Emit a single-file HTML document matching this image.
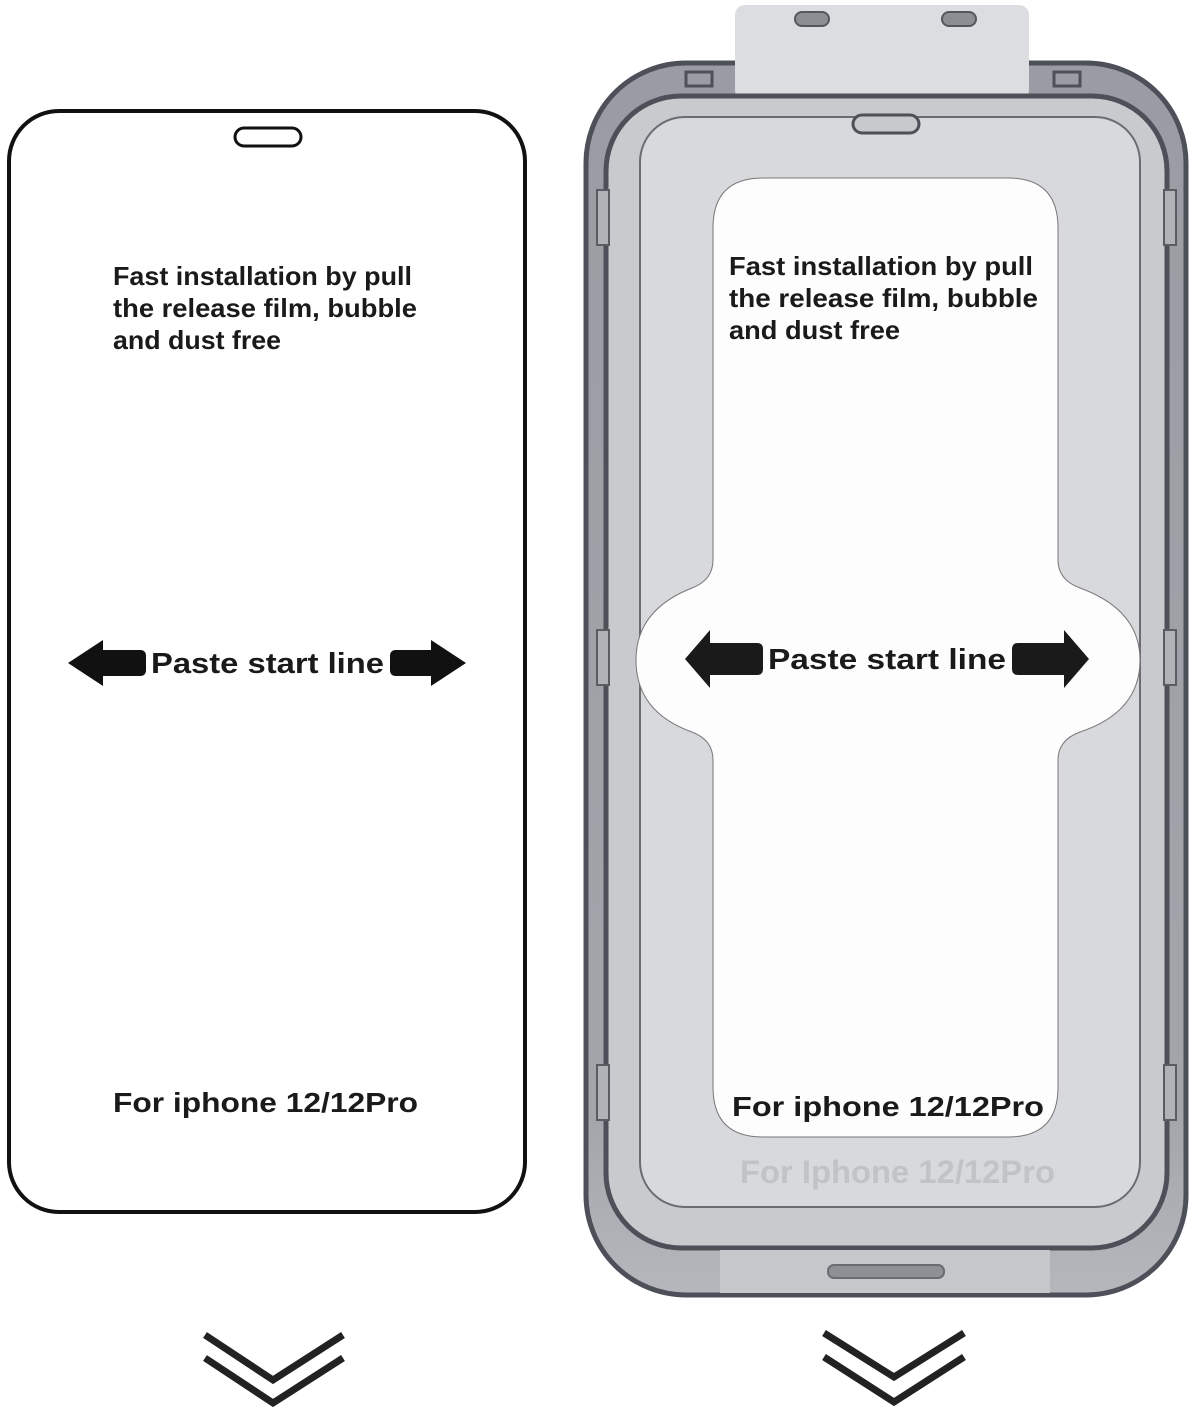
<!DOCTYPE html>
<html><head><meta charset="utf-8"><style>
html,body{margin:0;padding:0;background:#fff;width:1193px;height:1410px;overflow:hidden}
text{font-family:"Liberation Sans","DejaVu Sans",sans-serif;font-weight:bold;fill:#1a1a1a}
</style></head><body>
<svg width="1193" height="1410" viewBox="0 0 1193 1410" xmlns="http://www.w3.org/2000/svg">
<defs>
<linearGradient id="fr" x1="0" y1="0" x2="0" y2="1">
<stop offset="0" stop-color="#9a9ca3"/><stop offset="0.85" stop-color="#a3a5ab"/><stop offset="1" stop-color="#b5b7bc"/>
</linearGradient>
</defs>
<!-- LEFT PHONE -->
<rect x="9" y="111" width="516" height="1101" rx="50" fill="#fff" stroke="#111" stroke-width="4"/>
<rect x="235" y="128" width="66" height="18" rx="9" fill="#fff" stroke="#111" stroke-width="3"/>
<text x="113" y="285" font-size="26" textLength="299" lengthAdjust="spacingAndGlyphs">Fast installation by pull</text>
<text x="113" y="317" font-size="26" textLength="304" lengthAdjust="spacingAndGlyphs">the release film, bubble</text>
<text x="113" y="349" font-size="26" textLength="168" lengthAdjust="spacingAndGlyphs">and dust free</text>
<path d="M68 663 L103 640 L103 650 L140 650 Q146 650 146 656 L146 670 Q146 676 140 676 L103 676 L103 686 Z" fill="#111"/>
<text x="151" y="673" font-size="29" textLength="233" lengthAdjust="spacingAndGlyphs">Paste start line</text>
<path d="M466 663 L431 640 L431 650 L396 650 Q390 650 390 656 L390 670 Q390 676 396 676 L431 676 L431 686 Z" fill="#111"/>
<text x="113" y="1112" font-size="28" textLength="305" lengthAdjust="spacingAndGlyphs">For iphone 12/12Pro</text>

<!-- RIGHT TRAY -->
<rect x="586" y="63" width="600" height="1232" rx="100" fill="url(#fr)" stroke="#4d5058" stroke-width="5"/>
<rect x="735" y="5" width="294" height="95" rx="10" fill="#dcdde0"/>
<rect x="795" y="12" width="34" height="14" rx="7" fill="#8c8e94" stroke="#55575d" stroke-width="2"/>
<rect x="942" y="12" width="34" height="14" rx="7" fill="#8c8e94" stroke="#55575d" stroke-width="2"/>
<rect x="686" y="72" width="26" height="14" fill="#9a9ca3" stroke="#4d5058" stroke-width="3"/>
<rect x="1054" y="72" width="26" height="14" fill="#9a9ca3" stroke="#4d5058" stroke-width="3"/>
<rect x="606" y="96" width="561" height="1152" rx="75" fill="#c9cace" stroke="#4d5058" stroke-width="5"/>
<rect x="640" y="117" width="500" height="1090" rx="45" fill="#d8d9dc" stroke="#6a6c72" stroke-width="2"/>
<rect x="720" y="1250" width="330" height="43" fill="#c6c7cb"/>
<rect x="828" y="1265" width="116" height="13" rx="6" fill="#8e9096" stroke="#6a6c72" stroke-width="2"/>
<rect x="853" y="115" width="66" height="18" rx="9" fill="#c8c9cd" stroke="#4d5058" stroke-width="3"/>
<rect x="597" y="190" width="12" height="55" fill="#b0b2b7" stroke="#5a5c62" stroke-width="2"/>
<rect x="1164" y="190" width="12" height="55" fill="#b0b2b7" stroke="#5a5c62" stroke-width="2"/>
<rect x="597" y="630" width="12" height="55" fill="#b0b2b7" stroke="#5a5c62" stroke-width="2"/>
<rect x="1164" y="630" width="12" height="55" fill="#b0b2b7" stroke="#5a5c62" stroke-width="2"/>
<rect x="597" y="1065" width="12" height="55" fill="#b0b2b7" stroke="#5a5c62" stroke-width="2"/>
<rect x="1164" y="1065" width="12" height="55" fill="#b0b2b7" stroke="#5a5c62" stroke-width="2"/>
<text x="740" y="1183" font-size="32" style="fill:#c2c3c7" textLength="315" lengthAdjust="spacingAndGlyphs">For Iphone 12/12Pro</text>
<!-- white label -->
<path d="M763 178 L1008 178 Q1058 178 1058 228 L1058 560 Q1058 580 1080 588 Q1140 610 1140 660 Q1140 712 1080 732 Q1058 740 1058 760 L1058 1087 Q1058 1137 1008 1137 L763 1137 Q713 1137 713 1087 L713 760 Q713 740 692 732 Q636 712 636 660 Q636 610 692 588 Q713 580 713 560 L713 228 Q713 178 763 178 Z" fill="#fdfdfd" stroke="#777" stroke-width="1"/>
<text x="729" y="275" font-size="26" textLength="304" lengthAdjust="spacingAndGlyphs">Fast installation by pull</text>
<text x="729" y="307" font-size="26" textLength="309" lengthAdjust="spacingAndGlyphs">the release film, bubble</text>
<text x="729" y="339" font-size="26" textLength="171" lengthAdjust="spacingAndGlyphs">and dust free</text>
<path d="M685 659 L710 630 L710 643 L757 643 Q763 643 763 649 L763 669 Q763 675 757 675 L710 675 L710 688 Z" fill="#1a1a1a"/>
<text x="768" y="669" font-size="29" textLength="238" lengthAdjust="spacingAndGlyphs">Paste start line</text>
<path d="M1089 659 L1064 630 L1064 643 L1018 643 Q1012 643 1012 649 L1012 669 Q1012 675 1018 675 L1064 675 L1064 688 Z" fill="#1a1a1a"/>
<text x="732" y="1116" font-size="28" textLength="312" lengthAdjust="spacingAndGlyphs">For iphone 12/12Pro</text>

<!-- chevrons -->
<g fill="none" stroke="#222" stroke-width="7">
<polyline points="205,1335 273,1380 343,1335"/>
<polyline points="205,1358 273,1403 343,1358"/>
<polyline points="824,1333 894,1377 964,1333"/>
<polyline points="824,1357 894,1402 964,1357"/>
</g>
</svg>
</body></html>
